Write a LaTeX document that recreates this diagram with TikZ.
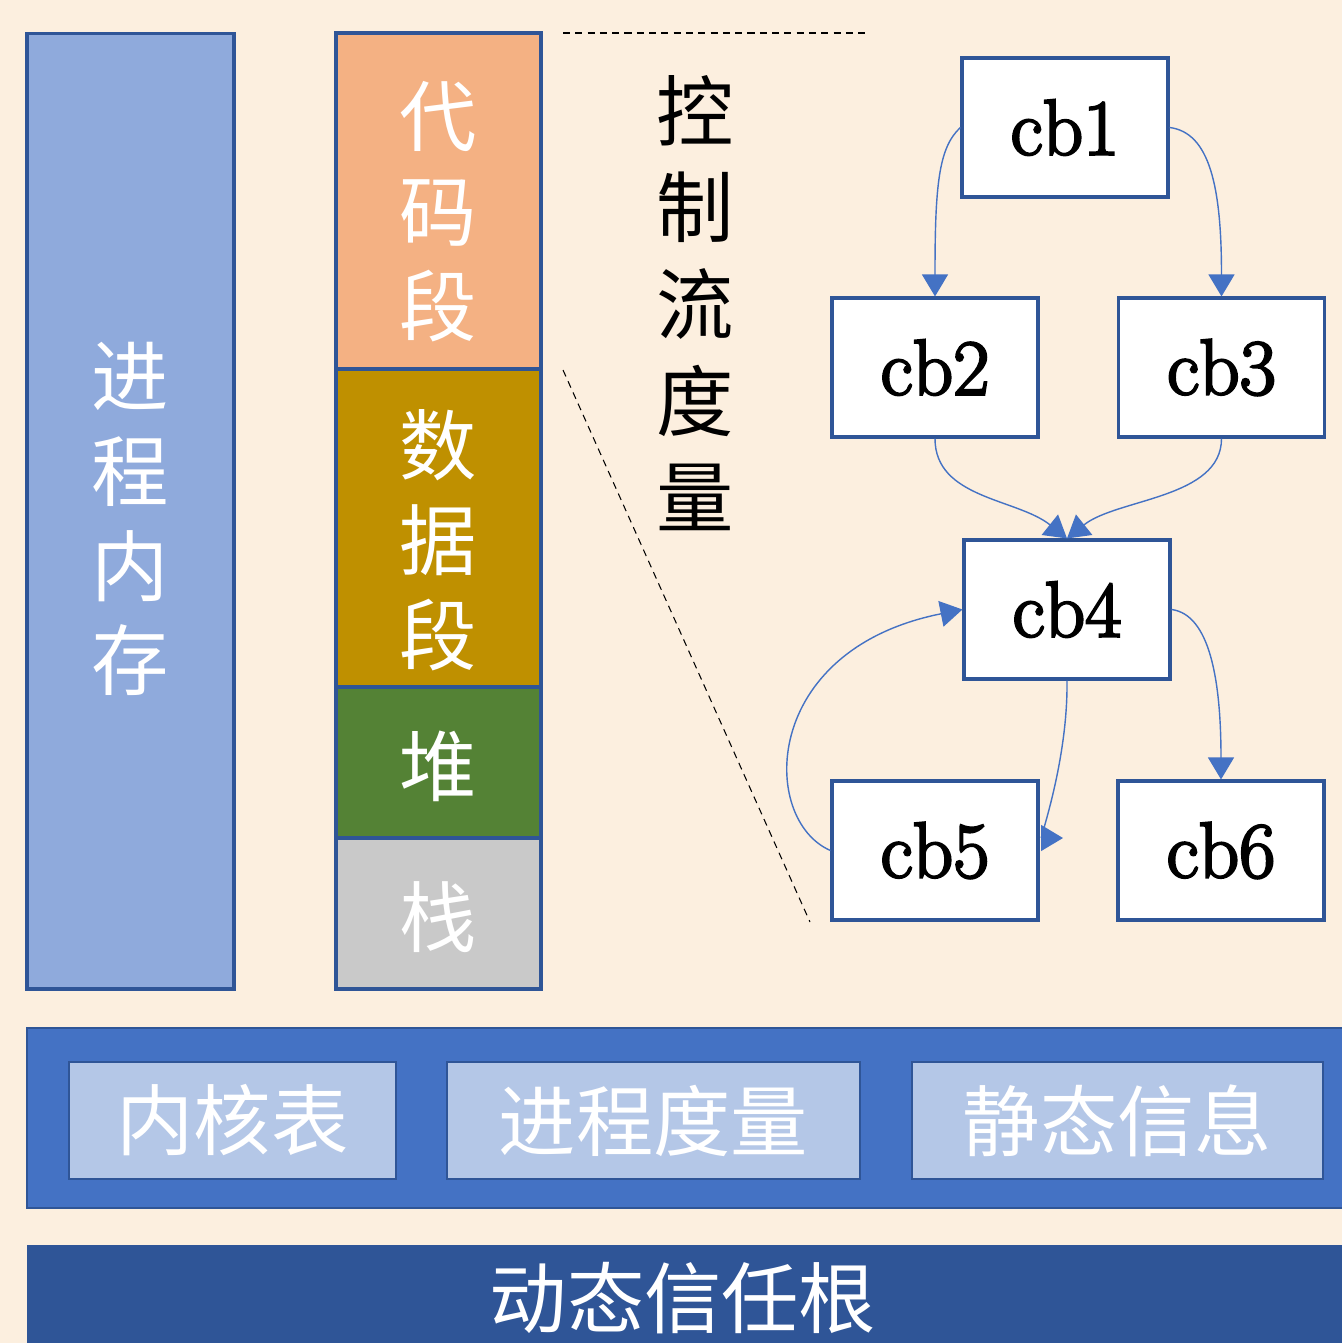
\documentclass[tikz,border=0pt]{standalone}
\usepackage{fontspec}
\newfontfamily\cjk{Noto Sans CJK SC}
\newfontfamily\cbfont{Latin Modern Roman}[FakeBold=3]
\usetikzlibrary{arrows.meta}
\definecolor{bg}{HTML}{FCEFDF}
\definecolor{dark}{HTML}{2F5597}
\definecolor{midblue}{HTML}{4472C4}
\definecolor{lightblue}{HTML}{B4C7E7}
\definecolor{memblue}{HTML}{8FAADC}
\definecolor{codeseg}{HTML}{F4B183}
\definecolor{dataseg}{HTML}{BF9000}
\definecolor{heapseg}{HTML}{548235}
\definecolor{stackseg}{HTML}{C9C9C9}
\begin{document}
\begin{tikzpicture}[x=0.02cm,y=-0.02cm,
  box/.style={draw=dark, line width=1.8pt, inner sep=0pt},
  cjktext/.style={font=\cjk\fontsize{44}{54}\selectfont, text=white, align=center},
  segbox/.style={box, minimum width=4.1cm},
  cbbox/.style={box, fill=white, minimum width=4.12cm, minimum height=2.78cm,
     font=\cbfont\fontsize{45}{50}\selectfont},
  flow/.style={draw=midblue, line width=0.8pt,
     -{Triangle[length=0.44cm,width=0.52cm]}},
  guide/.style={draw=black, line width=0.6pt, dash pattern=on 4pt off 3pt},
  inbox/.style={box, fill=lightblue, line width=1.4pt, minimum height=2.34cm,
     font=\cjk\fontsize{44}{54}\selectfont, text=white}
]
\useasboundingbox (0,0) rectangle (1342,1343);
\clip (0,0) rectangle (1342,1343);
\fill[bg] (0,0) rectangle (1342,1343);

% process memory
\node[box, fill=memblue, minimum width=4.14cm, minimum height=19.12cm]
  (mem) at (130.5,511) {};
\node[cjktext] (memt) at ([yshift=-8*0.02cm]mem.center) {进\\程\\内\\存};

% segments column
\node[segbox, fill=codeseg, minimum height=6.72cm] (code) at (438.5,201) {};
\node[segbox, fill=dataseg, minimum height=6.36cm] (data) at (438.5,528) {};
\node[segbox, fill=heapseg, minimum height=3.02cm] (heap) at (438.5,762.5) {};
\node[segbox, fill=stackseg, minimum height=3.02cm] (stack) at (438.5,913.5) {};
\node[cjktext] (codet) at (438.5,212) {代\\码\\段};
\node[cjktext] (datat) at (438.5,540) {数\\据\\段};
\node[cjktext] (heapt) at (438.5,766) {堆};
\node[cjktext] (stackt) at (438.5,917) {栈};

% guide lines
\coordinate (g1a) at (563,33);
\coordinate (g1b) at (870,33);
\coordinate (g2a) at (563,370);
\coordinate (g2b) at (810,922);
\draw[guide] (g1a) -- (g1b);
\draw[guide] (g2a) -- (g2b);

% label
\node[font=\cjk\fontsize{44}{55}\selectfont, align=center, text=black]
  (cfm) at (695,303) {控\\制\\流\\度\\量};

% control flow blocks
\node[cbbox] (cb1) at (1065,127.5) {cb1};
\node[cbbox] (cb2) at (935,367.5) {cb2};
\node[cbbox] (cb3) at (1221.5,367.5) {cb3};
\node[cbbox] (cb4) at (1067,609.5) {cb4};
\node[cbbox] (cb5) at (935,850.5) {cb5};
\node[cbbox] (cb6) at (1221,850.5) {cb6};

\coordinate (cb5tip) at (1063,838);

\draw[flow] (cb1.west) .. controls +(-22,20) and +(0,-110) .. (cb2.north);
\draw[flow] (cb1.east) .. controls +(40,5) and +(0,-110) .. (cb3.north);
\draw[flow] (cb2.south) .. controls +(0,60) and +(-50,-40) .. (cb4.north);
\draw[flow] (cb3.south) .. controls +(0,60) and +(50,-40) .. (cb4.north);
\draw[flow] (cb5.west) .. controls (760,820) and (760,650) .. (cb4.west);
\draw[flow] (cb4.south) .. controls (1068,760) and (1040,838) .. (cb5tip);
\draw[flow] (cb4.east) .. controls +(38,5) and +(0,-100) .. (cb6.north);

% bottom panel
\draw[fill=midblue, draw=dark, line width=1.6pt] (27,1028) rectangle (1360,1208);
\node[inbox, minimum width=6.54cm] (kt) at (232.5,1120.5) {内核表};
\node[inbox, minimum width=8.26cm] (pm) at (653.5,1120.5) {进程度量};
\node[inbox, minimum width=8.22cm] (si) at (1117.5,1120.5) {静态信息};

% root bar
\fill[dark] (27,1245) rectangle (1360,1360);
\node[font=\cjk\fontsize{44}{54}\selectfont, text=white] (root) at (683,1298) {动态信任根};
\end{tikzpicture}
\end{document}
